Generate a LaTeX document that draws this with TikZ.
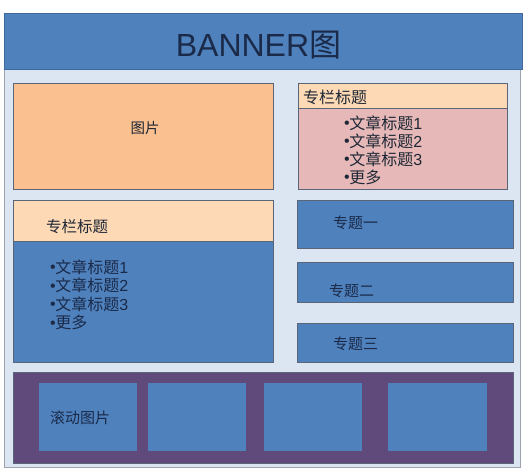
\documentclass[tikz,border=0pt]{standalone}
\usepackage{fontspec}
\setmainfont{Liberation Sans}
\newfontfamily\cjk{Noto Sans CJK SC}
\definecolor{bgblue}{HTML}{DCE6F2}
\definecolor{bblue}{HTML}{4F81BD}
\definecolor{bbord}{HTML}{3E6A9E}
\definecolor{orng}{HTML}{FAC090}
\definecolor{peach}{HTML}{FDD9B5}
\definecolor{pinkb}{HTML}{E6B9B8}
\definecolor{purp}{HTML}{604A7B}
\definecolor{bord}{HTML}{5A6678}
\definecolor{txt}{HTML}{1E2735}
\definecolor{txtn}{HTML}{1A2A48}
\tikzset{
  panel/.style={draw=bord, line width=1.1pt},
  lbl/.style={anchor=west, inner sep=0pt, text=txt, font=\fontsize{15}{16}\selectfont\cjk},
  itm/.style={anchor=west, inner sep=0pt, text=txt, font=\fontsize{16}{16}\selectfont},
}
\newcommand{\bul}{\raisebox{0.5pt}{•}\kern-0.5pt}
\begin{document}
\begin{tikzpicture}[x=1pt,y=-1pt]
\useasboundingbox (0,0) rectangle (531,474);
% frame
\fill[bgblue, draw=bord!60] (4,13) rectangle (520,467);
% banner
\node[fill=bblue, draw=bbord, line width=1pt, minimum width=518pt, minimum height=56pt, anchor=north west, inner sep=0pt] (banner) at (4,13) {};
\node[text=txtn, font=\fontsize{32}{34}\selectfont] (bannert) at (258.5,45) {BANNER{\cjk 图}};
% image box
\node[panel, fill=orng, minimum width=260pt, minimum height=106pt, anchor=north west, inner sep=0pt] (img) at (13,83) {};
\node[text=txt, inner sep=0pt, font=\fontsize{14.5}{16}\selectfont\cjk] (imgt) at (145,128) {图片};
% right column panel
\node[panel, fill=pinkb, minimum width=209pt, minimum height=106pt, anchor=north west, inner sep=0pt] (rp) at (298,83) {};
\node[panel, fill=peach, minimum width=209pt, minimum height=25pt, anchor=north west, inner sep=0pt] (rph) at (298,83) {};
\node[lbl, font=\fontsize{16}{16}\selectfont\cjk] (rpht) at (303,97) {专栏标题};
\node[itm] (r1) at (344,123) {\bul{\cjk 文章标题}1};
\node[itm] (r2) at (344,141) {\bul{\cjk 文章标题}2};
\node[itm] (r3) at (344,159) {\bul{\cjk 文章标题}3};
\node[itm] (r4) at (344,177) {\bul{\cjk 更多}};
% left column panel
\node[panel, fill=bblue, minimum width=260pt, minimum height=162pt, anchor=north west, inner sep=0pt] (lp) at (13,200) {};
\node[panel, fill=peach, minimum width=260pt, minimum height=41pt, anchor=north west, inner sep=0pt] (lph) at (13,200) {};
\node[lbl, font=\fontsize{15.5}{16}\selectfont\cjk] (lpht) at (46,227) {专栏标题};
\node[itm, text=txtn] (l1) at (50,267) {\bul{\cjk 文章标题}1};
\node[itm, text=txtn] (l2) at (50,285.5) {\bul{\cjk 文章标题}2};
\node[itm, text=txtn] (l3) at (50,304) {\bul{\cjk 文章标题}3};
\node[itm, text=txtn] (l4) at (50,322.5) {\bul{\cjk 更多}};
% topics
\node[panel, fill=bblue, minimum width=216pt, minimum height=48pt, anchor=north west, inner sep=0pt] (t1) at (297,200) {};
\node[lbl, text=txtn] (t1t) at (333,223) {专题一};
\node[panel, fill=bblue, minimum width=216pt, minimum height=40pt, anchor=north west, inner sep=0pt] (t2) at (297,262) {};
\node[lbl, text=txtn] (t2t) at (329,291) {专题二};
\node[panel, fill=bblue, minimum width=216pt, minimum height=39pt, anchor=north west, inner sep=0pt] (t3) at (297,323) {};
\node[lbl, text=txtn] (t3t) at (333,344) {专题三};
% scroll strip
\node[fill=purp, draw=bord, line width=0.8pt, minimum width=500pt, minimum height=91pt, anchor=north west, inner sep=0pt] (strip) at (13,372) {};
\node[fill=bblue, minimum width=98pt, minimum height=68pt, anchor=north west, inner sep=0pt] (s1) at (39,383) {};
\node[fill=bblue, minimum width=98pt, minimum height=68pt, anchor=north west, inner sep=0pt] (s2) at (148,383) {};
\node[fill=bblue, minimum width=98pt, minimum height=68pt, anchor=north west, inner sep=0pt] (s3) at (264,383) {};
\node[fill=bblue, minimum width=99pt, minimum height=68pt, anchor=north west, inner sep=0pt] (s4) at (388,383) {};
\node[lbl, text=txtn] (s1t) at (50,418) {滚动图片};
\end{tikzpicture}
\end{document}
